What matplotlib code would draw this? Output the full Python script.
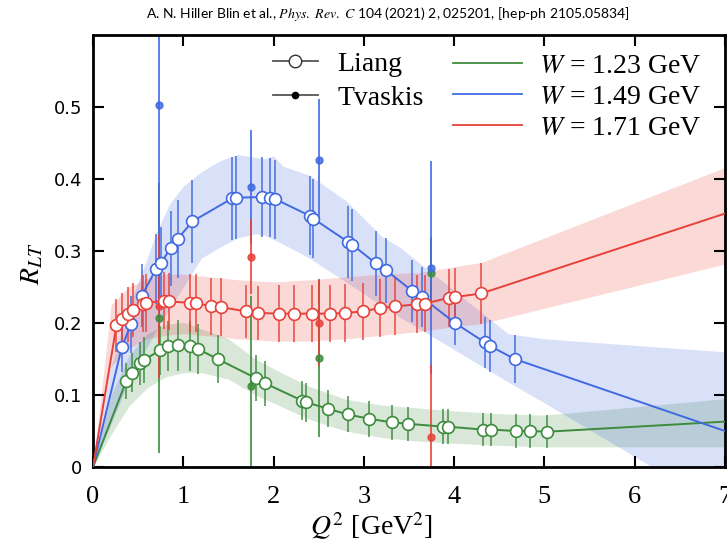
import numpy as np
import matplotlib
matplotlib.use("Agg")
import matplotlib.pyplot as plt
from matplotlib.lines import Line2D

# Liang data, W = 1.23 GeV
green_x = [0.37, 0.43, 0.52, 0.57, 0.74, 0.83, 0.94, 1.07, 1.16, 1.38, 1.81, 1.91, 2.32, 2.36,
           2.60, 2.82, 3.06, 3.31, 3.49, 3.88, 3.93, 4.32, 4.41, 4.68, 4.84, 5.03]
green_y = [0.120, 0.131, 0.144, 0.149, 0.162, 0.168, 0.169, 0.168, 0.164, 0.150, 0.123, 0.116, 0.092, 0.090,
           0.081, 0.073, 0.067, 0.062, 0.060, 0.056, 0.056, 0.052, 0.052, 0.050, 0.050, 0.049]
green_err = [0.025, 0.027, 0.030, 0.032, 0.034, 0.035, 0.035, 0.035, 0.035, 0.034, 0.032, 0.031, 0.027, 0.027,
             0.026, 0.025, 0.025, 0.024, 0.024, 0.024, 0.024, 0.023, 0.023, 0.023, 0.023, 0.023]

# Liang data, W = 1.49 GeV
blue_x = [0.32, 0.42, 0.54, 0.70, 0.75, 0.86, 0.94, 1.10, 1.54, 1.58, 1.87, 1.96, 2.02, 2.40, 2.44,
          2.82, 2.87, 3.13, 3.25, 3.53, 3.64, 4.01, 4.34, 4.40, 4.67]
blue_y = [0.167, 0.198, 0.238, 0.275, 0.283, 0.304, 0.317, 0.341, 0.373, 0.374, 0.375, 0.374, 0.372, 0.349, 0.345,
          0.313, 0.309, 0.283, 0.273, 0.245, 0.236, 0.200, 0.173, 0.168, 0.150]
blue_err = [0.035, 0.040, 0.044, 0.048, 0.050, 0.052, 0.054, 0.058, 0.058, 0.058, 0.055, 0.055, 0.055, 0.055, 0.055,
            0.050, 0.050, 0.045, 0.045, 0.043, 0.042, 0.030, 0.036, 0.036, 0.033]

# Liang data, W = 1.71 GeV
red_x = [0.26, 0.32, 0.39, 0.44, 0.55, 0.59, 0.79, 0.84, 1.07, 1.14, 1.31, 1.42, 1.70, 1.83, 2.06,
         2.23, 2.43, 2.62, 2.79, 2.99, 3.18, 3.35, 3.59, 3.68, 3.94, 4.01, 4.30]
red_y = [0.197, 0.205, 0.212, 0.218, 0.227, 0.228, 0.231, 0.230, 0.228, 0.228, 0.223, 0.222, 0.216, 0.214, 0.213,
         0.213, 0.213, 0.213, 0.214, 0.216, 0.221, 0.223, 0.226, 0.227, 0.235, 0.236, 0.241]
red_err = [0.037, 0.037, 0.038, 0.038, 0.040, 0.040, 0.040, 0.040, 0.040, 0.040, 0.040, 0.040, 0.037, 0.038, 0.040,
           0.040, 0.040, 0.040, 0.040, 0.040, 0.040, 0.040, 0.040, 0.040, 0.040, 0.040, 0.042]

# model value at Q2 = 7
model_end = {"green": 0.063, "blue": 0.050, "red": 0.352}

# model bands
green_band_x = [0, 0.2, 0.4, 0.6, 0.8, 1.0, 1.2, 1.5, 1.8, 2.1, 2.4, 2.8, 3.2, 3.6, 4.0, 4.5, 5.0, 7.0]
green_band_hi = [0, 0.10, 0.155, 0.185, 0.198, 0.201, 0.192, 0.178, 0.150, 0.130, 0.112, 0.094, 0.086, 0.082, 0.078, 0.074, 0.072, 0.095]
green_band_lo = [0, 0.045, 0.085, 0.110, 0.125, 0.131, 0.131, 0.122, 0.100, 0.083, 0.066, 0.050, 0.041, 0.036, 0.033, 0.030, 0.028, 0.028]

blue_band_x = [0, 0.2, 0.4, 0.55, 0.7, 0.85, 1.0, 1.2, 1.4, 1.6, 1.8, 1.9, 2.0, 2.1, 2.4, 2.8, 3.2, 3.4, 3.6, 3.8, 4.2, 4.6, 5.0, 7.0]
blue_band_hi = [0, 0.14, 0.225, 0.273, 0.325, 0.366, 0.390, 0.410, 0.425, 0.434, 0.430, 0.428, 0.432, 0.418, 0.405, 0.370, 0.320,
                0.305, 0.285, 0.265, 0.225, 0.185, 0.178, 0.160]
blue_band_lo = [0, 0.06, 0.12, 0.155, 0.19, 0.22, 0.25, 0.29, 0.305, 0.318, 0.324, 0.322, 0.316, 0.31, 0.29, 0.257, 0.224,
                0.208, 0.193, 0.178, 0.148, 0.118, 0.089, -0.060]

red_band_x = [0, 0.2, 0.4, 0.6, 0.8, 1.0, 1.3, 1.6, 2.0, 2.4, 2.8, 3.2, 3.6, 4.0, 4.3, 7.0]
red_band_hi = [0, 0.225, 0.250, 0.262, 0.268, 0.268, 0.264, 0.260, 0.257, 0.260, 0.264, 0.268, 0.270, 0.278, 0.284, 0.416]
red_band_lo = [0, 0.140, 0.165, 0.178, 0.183, 0.185, 0.182, 0.178, 0.175, 0.175, 0.178, 0.183, 0.188, 0.195, 0.199, 0.282]

# Tvaskis data
tv_x = [0.73, 1.75, 2.50, 3.74]
tv_green = [0.207, 0.112, 0.151, 0.270]
tv_green_err = [0.187, 0.126, 0.110, 0.050]
tv_blue = [0.503, 0.389, 0.426, 0.277]
tv_blue_err = [0.300, 0.079, 0.085, 0.148]
tv_red = [0.223, 0.292, 0.200, 0.041]
tv_red_err = [0.100, 0.052, 0.060, 0.100]

labels_w = ["1.23", "1.49", "1.71"]
colors = {"green": "#3d8b3d", "blue": "#4169e1", "red": "#e8413a"}

plt.rcParams["font.family"] = "Liberation Serif"
plt.rcParams["mathtext.fontset"] = "stix"

fig = plt.figure(figsize=(7.27, 5.42), dpi=100)
ax = fig.add_axes([93 / 727, 1 - 467 / 542, 632 / 727, 432 / 542])

series = [
    ("green", green_x, green_y, green_err, green_band_x, green_band_lo, green_band_hi, tv_green, tv_green_err),
    ("blue", blue_x, blue_y, blue_err, blue_band_x, blue_band_lo, blue_band_hi, tv_blue, tv_blue_err),
    ("red", red_x, red_y, red_err, red_band_x, red_band_lo, red_band_hi, tv_red, tv_red_err),
]

for name, x, y, e, bx, blo, bhi, ty, te in series:
    c = colors[name]
    ax.fill_between(bx, blo, bhi, color=c, alpha=0.2, lw=0, zorder=1)
    ax.errorbar(tv_x, ty, yerr=te, fmt="o", color=c, ms=5, elinewidth=1.4, alpha=0.85,
                capsize=0, zorder=2)
    ax.errorbar(x, y, yerr=e, fmt="none", ecolor=c, elinewidth=1.4, alpha=0.75, capsize=0, zorder=3)
    lx = [0] + list(x) + [7.0]
    ly = [0] + list(y) + [model_end[name]]
    ax.plot(lx, ly, color=c, lw=1.4, zorder=4)
    ax.plot(x, y, "o", mfc="white", mec=c, mew=1.2, ms=8.5, zorder=5)

ax.set_xlim(0, 7)
ax.set_ylim(0, 0.6)
ax.set_xticks(range(8))
ax.set_xticklabels([str(i) for i in range(8)], fontsize=19)
ax.set_yticks([0, 0.1, 0.2, 0.3, 0.4, 0.5])
ax.set_yticklabels(["0", "0.1", "0.2", "0.3", "0.4", "0.5"], fontsize=13, family="DejaVu Sans")
ax.tick_params(direction="in", length=8, width=1.5, top=True, right=True, pad=8)
ax.tick_params(axis="x", pad=14)
for s in ax.spines.values():
    s.set_linewidth(2)

ax.set_xlabel(r"$Q^2$ [GeV$^2$]", fontsize=20)
ax.xaxis.set_label_coords(0.44, -0.1)
ax.set_ylabel(r"$R_{LT}$", fontsize=20)
ax.yaxis.set_label_coords(-0.075, 0.47)

h1 = [Line2D([], [], color="#555555", lw=1.3, marker="o", mfc="white", mec="#333333", ms=9),
      Line2D([], [], color="#555555", lw=1.3, marker="o", mfc="black", mec="black", ms=4.5)]
leg1 = ax.legend(h1, ["Liang", "Tvaskis"], loc="upper left", bbox_to_anchor=(0.285, 0.962),
                 frameon=False, fontsize=20, handlelength=1.6, handletextpad=0.7,
                 borderpad=0, borderaxespad=0, labelspacing=0.3)
ax.add_artist(leg1)

h2 = [Line2D([], [], color=colors[k], lw=1.3) for k in ["green", "blue", "red"]]
ax.legend(h2, [rf"$W$ = {w} GeV" for w in labels_w], loc="upper left", bbox_to_anchor=(0.569, 0.958),
          frameon=False, fontsize=20, handlelength=2.5, handletextpad=0.6,
          borderpad=0, borderaxespad=0, labelspacing=0.2)

fig.text(0.534, 0.975, "A. N. Hiller Blin et al., $\\it{Phys.\\ Rev.\\ C}$ 104 (2021) 2, 025201, [hep-ph 2105.05834]",
         ha="center", va="center", fontsize=10, family="Lato")

fig.savefig("out.png", dpi=100)
